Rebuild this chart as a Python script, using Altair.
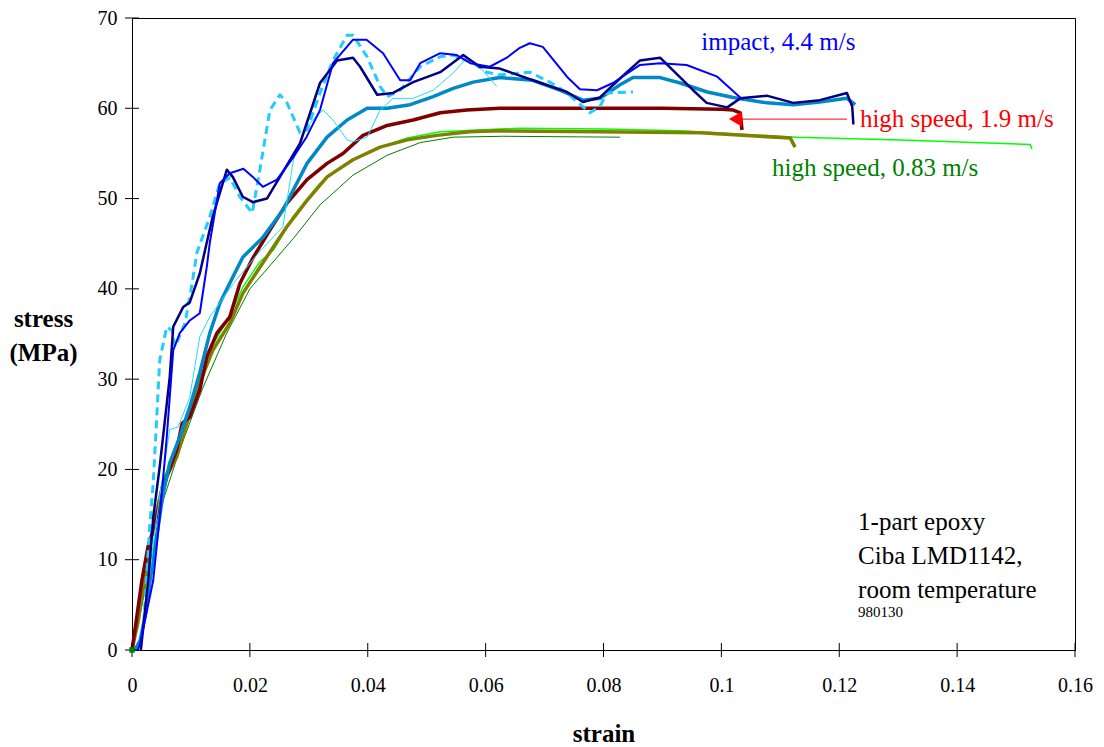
import altair as alt
import pandas as pd

FONT = "Liberation Serif"

# ---------------- data (strain, stress in MPa) ----------------
blue_x = [0.001, 0.0014, 0.0036, 0.0047, 0.0059, 0.007, 0.0081, 0.0098, 0.0115, 0.0127, 0.0132, 0.0149,
          0.0166, 0.0189, 0.0205, 0.0222, 0.0246, 0.0274, 0.0296, 0.0319, 0.0341, 0.0375, 0.0398, 0.0426,
          0.0455, 0.0472, 0.0489, 0.0523, 0.0551, 0.0574, 0.0607, 0.0636, 0.0658, 0.0675, 0.0697, 0.0738,
          0.076, 0.0789, 0.0816, 0.0862, 0.0896, 0.0941, 0.0993, 0.1032, 0.1036]
blue_y = [0, 0.8, 7.7, 14.7, 23.6, 33.2, 35.1, 36.5, 37.3, 42.5, 45.1, 51.7,
          52.8, 53.3, 52.4, 51.3, 52.1, 54.6, 56.8, 59.8, 65, 67.6, 67.6, 66.1,
          63.1, 63.1, 65, 66.1, 65.9, 65, 64.6, 65.6, 66.7, 67.2, 66.8, 63.5,
          62.1, 62, 62.8, 64.8, 65, 64.8, 63.5, 61.2, 61.0]

navy_x = [0.0015, 0.0028, 0.0036, 0.0047, 0.0064, 0.007, 0.0087, 0.0098, 0.0115, 0.0124, 0.0137, 0.0161,
          0.0171, 0.0188, 0.0205, 0.0229, 0.0251, 0.0285, 0.0319, 0.0348, 0.0375, 0.0387, 0.0416, 0.0443,
          0.0477, 0.0523, 0.0562, 0.059, 0.0624, 0.068, 0.0738, 0.0765, 0.0794, 0.0828, 0.0862, 0.0896,
          0.0918, 0.0952, 0.0975, 0.101, 0.1032, 0.1077, 0.1122, 0.1167, 0.1213, 0.1222, 0.1224]
navy_y = [0, 8, 14.7, 20.3, 30.2, 35.8, 38, 38.5, 41.7, 44.3, 48, 53.2,
          52.4, 50.2, 49.6, 50, 52.4, 56.1, 62.8, 65.3, 65.6, 64.6, 61.5, 61.7,
          62.9, 64, 65.9, 64.6, 64.4, 63.1, 61.8, 60.7, 61.2, 63.3, 65.3, 65.6,
          64.2, 62, 60.6, 60.1, 61.1, 61.4, 60.6, 60.9, 61.7, 60.2, 58.2]

cyand_x = [0.002, 0.003, 0.0036, 0.0042, 0.0047, 0.0059, 0.0068, 0.0073, 0.009, 0.0102, 0.011, 0.0132,
           0.0149, 0.0166, 0.0183, 0.0204, 0.0217, 0.0234, 0.0251, 0.0263, 0.0285, 0.0297, 0.0319, 0.0341,
           0.0365, 0.0375, 0.0399, 0.0421, 0.0433, 0.0455, 0.0489, 0.0523, 0.0545, 0.0579, 0.0602, 0.0624,
           0.0658, 0.0675, 0.0709, 0.0738, 0.0777, 0.0794, 0.0806, 0.085]
cyand_y = [3, 13.6, 18.5, 25.8, 32.1, 35.8, 35.4, 33.6, 36.2, 40.6, 44, 48,
           51.7, 52.3, 50.2, 48.4, 53.2, 59.8, 61.5, 60.6, 57.3, 57.6, 61.7, 65.3,
           68.1, 68.1, 65.7, 62.4, 61.3, 62, 64.6, 65.7, 65.9, 65, 64, 63.7,
           63.9, 64, 62.9, 61.7, 59.5, 60.2, 61.7, 61.8]

cyant_x = [0.002, 0.0042, 0.0064, 0.0078, 0.0098, 0.0115, 0.0132, 0.0172, 0.0215, 0.0256, 0.0274, 0.0296,
           0.0324, 0.0341, 0.0365, 0.0375, 0.0399, 0.0421, 0.0443, 0.0477, 0.0511, 0.0545, 0.0568, 0.059,
           0.0619]
cyant_y = [3, 14.8, 24.4, 24.7, 28, 34.7, 36.9, 40.6, 44, 46.9, 54.3, 58,
           59.8, 58.7, 56.5, 56.3, 56.8, 59.8, 61.1, 61.1, 62, 63.9, 65.6, 64.6,
           62.4]

steel_x = [0.0005, 0.0014, 0.0022, 0.003, 0.0036, 0.0053, 0.0064, 0.0081, 0.0098, 0.0115, 0.0132, 0.0149,
           0.0171, 0.0188, 0.0222, 0.0256, 0.0297, 0.0331, 0.0365, 0.0399, 0.0433, 0.0472, 0.0511, 0.0545,
           0.0579, 0.0624, 0.068, 0.0726, 0.0765, 0.0794, 0.0828, 0.085, 0.0896, 0.093, 0.0976, 0.102,
           0.1077, 0.1122, 0.1167, 0.1213, 0.1227]
steel_y = [0, 1.1, 3.7, 7.4, 10, 17.4, 20.7, 23.6, 26.9, 30.7, 35.1, 38.4,
           41.3, 43.5, 45.7, 48.7, 53.9, 56.8, 58.7, 60, 60, 60.4, 61.3, 62.2,
           62.9, 63.4, 63.1, 62, 60.9, 61.1, 62.6, 63.4, 63.4, 62.8, 61.8, 61.2,
           60.6, 60.4, 60.7, 61.1, 60.4]

red_x = [0, 0.0008, 0.0017, 0.0027, 0.0036, 0.0047, 0.0059, 0.0076, 0.0085, 0.0098, 0.0115, 0.0127,
         0.0144, 0.0166, 0.0183, 0.0205, 0.0234, 0.0263, 0.0297, 0.0331, 0.0358, 0.0392, 0.0433, 0.0477,
         0.0523, 0.0568, 0.0624, 0.07, 0.08, 0.09, 0.1, 0.102, 0.1032, 0.1035]
red_y = [0, 3.6, 7.8, 11.4, 13.3, 16.3, 19.2, 22.2, 25.1, 25.8, 28.8, 32.5,
         35.1, 36.9, 40.6, 43.4, 46.5, 49.5, 52.1, 53.9, 55, 57, 58.1, 58.7,
         59.5, 59.8, 60, 60, 60, 60, 59.9, 59.8, 59.5, 57.6]

olive_x = [0, 0.001, 0.0036, 0.0053, 0.0076, 0.0093, 0.0115, 0.0137, 0.0166, 0.0188, 0.0217, 0.0263,
           0.0297, 0.0331, 0.0375, 0.0421, 0.0467, 0.0517, 0.0573, 0.0624, 0.0789, 0.0964, 0.1117, 0.1125]
olive_y = [0, 3, 13.6, 18.5, 21.4, 25.1, 29.6, 33.2, 36.2, 39.5, 42.4, 46.9,
           49.8, 52.4, 54.3, 55.7, 56.5, 57, 57.4, 57.5, 57.4, 57.3, 56.7, 55.7]

lime_x = [0, 0.001, 0.0036, 0.0053, 0.0076, 0.0093, 0.0115, 0.0137, 0.0166, 0.0188, 0.0217, 0.024,
          0.0273, 0.0319, 0.0365, 0.0409, 0.0467, 0.0523, 0.0658, 0.08, 0.093, 0.1128, 0.1303, 0.1524,
          0.1527]
lime_y = [0, 3, 14, 19, 22, 25.6, 30, 33.8, 37, 40.2, 43, 44.3,
          48, 51.7, 53.9, 55.4, 56.7, 57.4, 57.8, 57.7, 57.5, 56.8, 56.5, 56, 55.5]

green_x = [0, 0.002, 0.005, 0.008, 0.012, 0.016, 0.02, 0.0274, 0.0319, 0.0375, 0.0433, 0.0489,
           0.0545, 0.063, 0.0828]
green_y = [0, 6, 16, 22, 29, 35, 40, 45.6, 49.3, 52.6, 54.8, 56.2,
           56.8, 56.9, 56.8]

X_TICKS = [0, 0.02, 0.04, 0.06, 0.08, 0.1, 0.12, 0.14, 0.16]
Y_TICKS = [0, 10, 20, 30, 40, 50, 60, 70]

# (series arrays, colour, width, dash) in drawing order
SERIES = [
    (green_x, green_y, "#008000", 1.0, None),
    (lime_x, lime_y, "#00FF00", 1.5, None),
    (olive_x, olive_y, "#808000", 3.5, None),
    (red_x, red_y, "#800000", 3.5, None),
    (steel_x, steel_y, "#0088C8", 3.5, None),
    (cyant_x, cyant_y, "#22DDFF", 1.0, None),
    (cyand_x, cyand_y, "#22CCFF", 3.0, [8, 5]),
    (navy_x, navy_y, "#000080", 2.5, None),
    (blue_x, blue_y, "#0000FF", 2.0, None),
]

# annotations
ANNOT = [
    ("impact, 4.4 m/s", 0.0966, 67.3, "#0000FF", 25),
    ("high speed, 1.9 m/s", 0.1235, 58.8, "#FF0000", 25),
    ("high speed, 0.83 m/s", 0.1086, 53.4, "#008000", 25),
    ("1-part epoxy", 0.1232, 14.2, "black", 25),
    ("Ciba LMD1142,", 0.1232, 10.4, "black", 25),
    ("room temperature", 0.1232, 6.7, "black", 25),
    ("980130", 0.1232, 4.2, "black", 15),
]
ARROW_X = [0.1213, 0.1032]
ARROW_Y = 58.8
ARROW_HEAD_X = 0.1024

xscale = alt.Scale(domain=[0, 0.16], nice=False, zero=False)
yscale = alt.Scale(domain=[0, 70], nice=False, zero=False)

x_axis = alt.Axis(values=X_TICKS, format="~g", title="strain", ticks=False, tickSize=0,
                  domain=True, domainColor="black", domainWidth=1, grid=False,
                  labelFont=FONT, labelFontSize=20, labelColor="black", labelPadding=25,
                  labelFlush=False, labelOverlap=False,
                  titleFont=FONT, titleFontSize=25, titleFontWeight="bold", titleColor="black",
                  titleX=471.5, titleY=91, titleAlign="center", titleBaseline="alphabetic")
y_axis = alt.Axis(values=Y_TICKS, title=["stress", "(MPa)"], ticks=False, tickSize=0,
                  domain=True, domainColor="black", domainWidth=1, grid=False,
                  labelFont=FONT, labelFontSize=20, labelColor="black", labelPadding=15,
                  labelFlush=False, labelOverlap=False,
                  titleFont=FONT, titleFontSize=25, titleFontWeight="bold", titleColor="black",
                  titleAngle=0, titleX=-89, titleY=308, titleAlign="center",
                  titleBaseline="alphabetic", titleLineHeight=34)


def X(field="x"):
    return alt.X(f"{field}:Q", scale=xscale, axis=x_axis)


def Y(field="y"):
    return alt.Y(f"{field}:Q", scale=yscale, axis=y_axis)


layers = []
for xs, ys, col, w, dash in SERIES:
    df = pd.DataFrame({"x": xs, "y": ys, "i": range(len(xs))})
    kw = dict(color=col, strokeWidth=w, strokeJoin="round", strokeCap="butt")
    if dash:
        kw["strokeDash"] = dash
    layers.append(alt.Chart(df).mark_line(**kw).encode(x=X(), y=Y(), order="i:Q"))

# crossing tick marks
ytick_df = pd.DataFrame({"y": Y_TICKS})
layers.append(alt.Chart(ytick_df).mark_rule(color="black", strokeWidth=1).encode(
    y=Y(), x=alt.value(-7), x2=alt.value(7)))
xtick_df = pd.DataFrame({"x": X_TICKS})
layers.append(alt.Chart(xtick_df).mark_rule(color="black", strokeWidth=1).encode(
    x=X(), y=alt.value(625), y2=alt.value(639)))

# origin marker
layers.append(alt.Chart(pd.DataFrame({"x": [0], "y": [0]})).mark_point(
    shape="square", filled=True, color="#008000", size=30, opacity=1).encode(x=X(), y=Y()))

# arrow
arrow_df = pd.DataFrame({"x": [ARROW_X[0]], "x2": [ARROW_X[1]], "y": [ARROW_Y]})
layers.append(alt.Chart(arrow_df).mark_rule(color="#FF0000", strokeWidth=1).encode(
    x=X(), x2="x2:Q", y=Y()))
layers.append(alt.Chart(pd.DataFrame({"x": [ARROW_HEAD_X], "y": [ARROW_Y]})).mark_point(
    shape="triangle-left", filled=True, color="#FF0000", size=230, opacity=1).encode(x=X(), y=Y()))

# text annotations
for txt, tx, ty, col, fs in ANNOT:
    df = pd.DataFrame({"x": [tx], "y": [ty], "t": [txt]})
    layers.append(alt.Chart(df).mark_text(
        align="left", baseline="middle", font=FONT, fontSize=fs, color=col).encode(
        x=X(), y=Y(), text="t:N"))

chart = alt.layer(*layers).properties(
    width=943, height=632,
    autosize=alt.AutoSizeParams(type="none"),
    padding={"left": 132, "top": 18, "right": 29, "bottom": 97},
    background="white",
).configure_view(stroke="black", strokeWidth=1)

chart.save("out.html", embed_options={"renderer": "svg", "actions": False})
